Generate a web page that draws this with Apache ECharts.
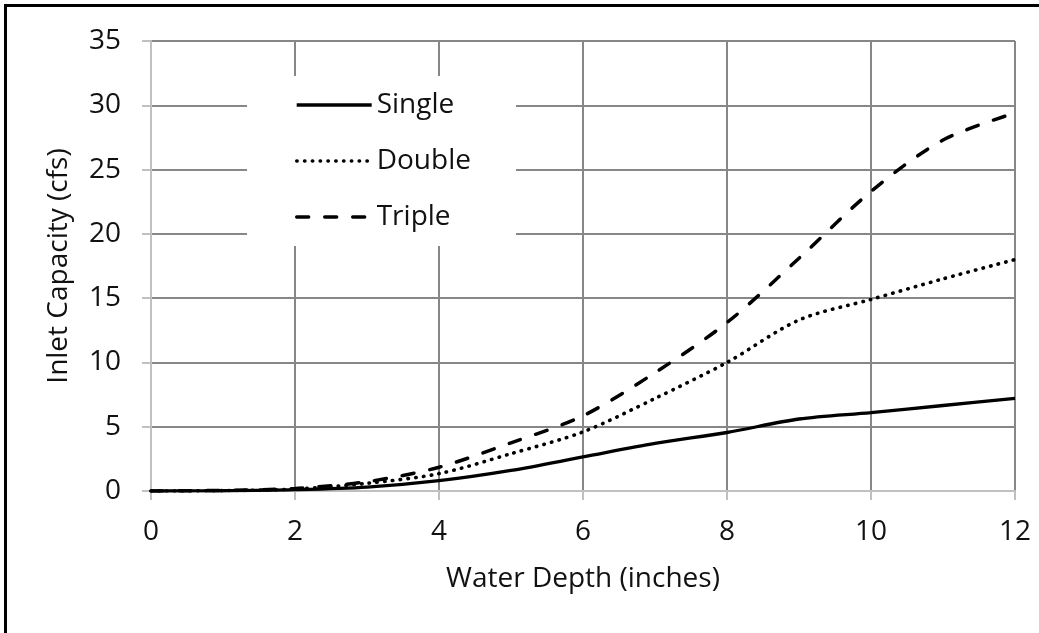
<!DOCTYPE html>
<html>
<head>
<meta charset="utf-8">
<script src="https://cdn.jsdelivr.net/npm/echarts@6/dist/echarts.min.js"></script>
<style>
html,body{margin:0;padding:0;background:#fff;}
#chart{width:1039px;height:633px;}
</style>
</head>
<body>
<div id="chart"></div>
<script>
const depths = [0,1,2,3,4,5,6,7,8,9,10,11,12];
const singleVals = [0,0.02,0.1,0.3,0.8,1.6,2.65,3.7,4.55,5.6,6.1,6.65,7.2];
const doubleVals = [0,0.03,0.15,0.6,1.35,2.9,4.6,7.2,10.0,13.3,14.9,16.5,18.0];
const tripleVals = [0,0.05,0.2,0.72,1.85,3.75,5.85,9.2,13.1,18.1,23.3,27.3,29.4];
const seriesNames = ['Single','Double','Triple'];
const xTitle = 'Water Depth (inches)';
const yTitle = 'Inlet Capacity (cfs)';

const FONT = 'Open Sans';
const FS = 28;
const TXT = '#111';
const GRID = '#878787';
const AXIS = '#c0c0c0';

function pairs(vals){ return depths.map((d,i)=>[d, vals[i]]); }

const chart = echarts.init(document.getElementById('chart'), null, {renderer:'canvas'});
chart.setOption({
  animation:false,
  backgroundColor:'#fff',
  textStyle:{fontFamily:FONT},
  grid:{left:151,right:24,top:41,bottom:142,containLabel:false},
  graphic:[{
    type:'rect',
    shape:{x:5.5,y:5.5,width:1200,height:1200},
    style:{fill:null,stroke:'#000',lineWidth:3},
    silent:true,z:-1
  }],
  legend:{
    orient:'vertical',
    left:247, top:76,
    padding:[14,45,14,48],
    backgroundColor:'#fff',
    itemWidth:75, itemHeight:30, itemGap:26,
    itemStyle:{color:'rgba(0,0,0,0)',borderWidth:0,opacity:0},
    lineStyle:{width:3.4},
    textStyle:{fontFamily:FONT,fontSize:FS,color:TXT,lineHeight:30},
    data:seriesNames
  },
  xAxis:{
    type:'value', min:0, max:12, interval:2,
    name:xTitle, nameLocation:'middle', nameGap:74,
    nameTextStyle:{fontFamily:FONT,fontSize:FS,color:TXT},
    axisLine:{show:true,lineStyle:{color:AXIS,width:2}},
    axisTick:{show:true,length:9,lineStyle:{color:AXIS,width:2}},
    axisLabel:{fontFamily:FONT,fontSize:FS,color:TXT,margin:27},
    splitLine:{show:true,lineStyle:{color:GRID,width:2}}
  },
  yAxis:{
    type:'value', min:0, max:35, interval:5,
    name:yTitle, nameLocation:'middle', nameGap:78, nameRotate:90,
    nameTextStyle:{fontFamily:FONT,fontSize:FS,color:TXT},
    axisLine:{show:true,lineStyle:{color:AXIS,width:2}},
    axisTick:{show:true,length:9,lineStyle:{color:AXIS,width:2}},
    axisLabel:{fontFamily:FONT,fontSize:FS,color:TXT,margin:30},
    splitLine:{show:true,lineStyle:{color:GRID,width:2}}
  },
  series:[
    {name:seriesNames[0],type:'line',data:pairs(singleVals),smooth:0.3,symbol:'none',
     lineStyle:{color:'#000',width:3.3,type:'solid'},itemStyle:{color:'#000'}},
    {name:seriesNames[1],type:'line',data:pairs(doubleVals),smooth:0.3,symbol:'none',
     lineStyle:{color:'#000',width:3.6,type:[0.5,7.3],cap:'round'},itemStyle:{color:'#000'}},
    {name:seriesNames[2],type:'line',data:pairs(tripleVals),smooth:0.3,symbol:'none',
     lineStyle:{color:'#000',width:3.5,type:[12,16],cap:'round'},itemStyle:{color:'#000'}}
  ]
});
</script>
</body>
</html>
